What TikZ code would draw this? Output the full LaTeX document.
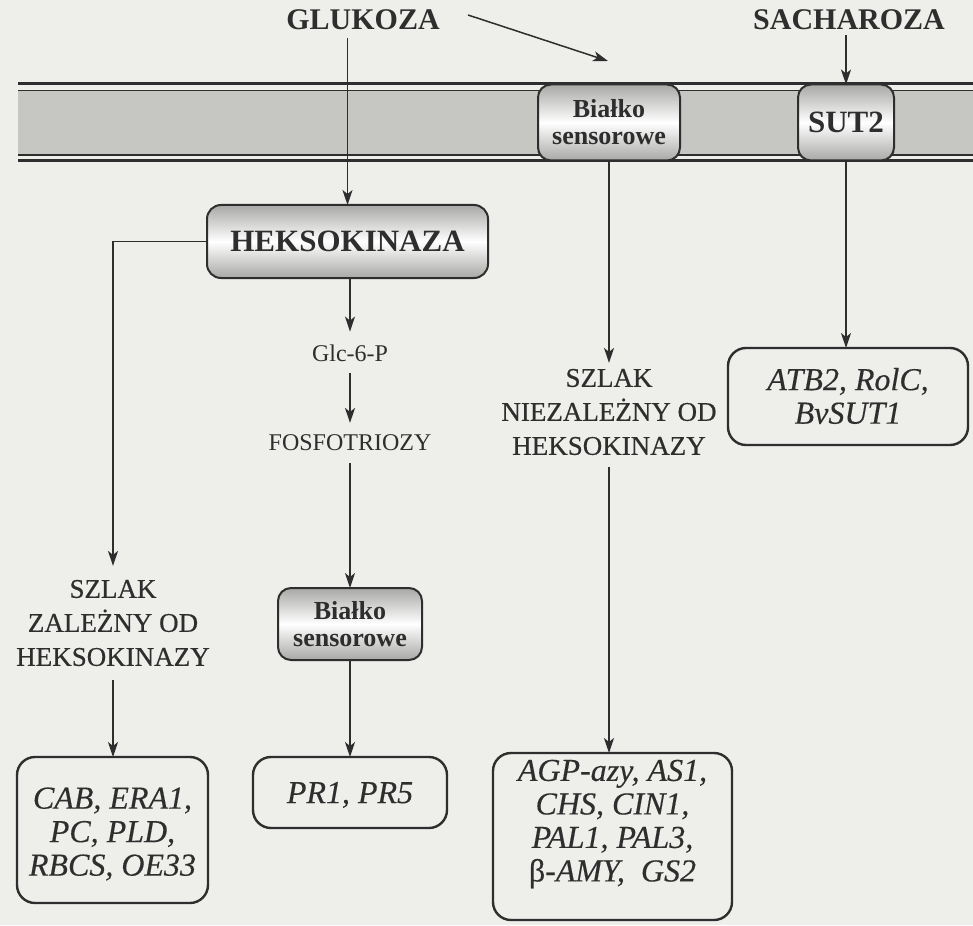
\documentclass[tikz,border=0pt]{standalone}
\usepackage{fontspec}
\setmainfont{Liberation Serif}
\usetikzlibrary{arrows.meta,calc}
\definecolor{paper}{HTML}{EEEEEB}
\definecolor{ink}{HTML}{2E2E2E}
\definecolor{membr}{HTML}{C6C6C3}
\definecolor{shade}{HTML}{A8A8A6}

\begin{document}
\begin{tikzpicture}[x=1pt,y=-1pt,
  every node/.style={text=ink, inner sep=0pt, outer sep=0pt},
  conn/.style={draw=ink, line width=1.5pt, -{Stealth[length=15pt,width=10pt,inset=4pt]}},
  title/.style={font=\fontsize{30}{36}\selectfont\bfseries},
  midtext/.style={font=\fontsize{24}{28}\selectfont},
  pathtext/.style={font=\fontsize{27}{34}\selectfont\addfontfeature{FakeBold=0.5}, align=center},
  protein/.style={draw=ink, line width=2pt, rounded corners=13pt,
    top color=shade, bottom color=shade, middle color=white, align=center},
  senstext/.style={font=\fontsize{26}{27}\selectfont\bfseries},
  bigbold/.style={font=\fontsize{31}{36}\selectfont\bfseries},
  genebox/.style={draw=ink, line width=2.4pt, rounded corners=18pt},
  genetext/.style={font=\fontsize{32}{33.5}\selectfont\itshape\addfontfeature{FakeBold=0.3}, align=center},
]
% paper and fixed frame
\fill[paper] (0,0) rectangle (973,925);
\useasboundingbox (0,0) rectangle (973,925);

% membrane band with its double edges
\fill[membr] (18,90) rectangle (973,155);
\draw[ink, line width=3pt] (18,84) -- (973,84);
\draw[ink, line width=1.8pt] (18,90.5) -- (973,90.5);
\draw[ink, line width=1.8pt] (18,155) -- (973,155);
\draw[ink, line width=3pt] (18,161) -- (973,161);

% substrates
\node[title] (g) at (363,20) {GLUKOZA};
\node[title] (s) at (849,20) {SACHAROZA};

% membrane proteins
\node[protein, senstext, minimum width=142pt, minimum height=76pt] (bs1) at (609,122.5)
  {Białko\\sensorowe};
\node[protein, bigbold, minimum width=96pt, minimum height=76pt] (sut) at (846,122.5)
  {SUT2};

% hexokinase branch
\node[protein, bigbold, minimum width=281pt, minimum height=73pt, rounded corners=14pt] (hk) at (347.5,241.5)
  {HEKSOKINAZA};
\node[midtext] (glc) at (350,353) {Glc-6-P};
\node[midtext] (fos) at (350,443) {FOSFOTRIOZY};
\node[protein, senstext, minimum width=144pt, minimum height=72pt] (bs2) at (350,624)
  {Białko\\sensorowe};

% pathway labels
\node[pathtext] (zal) at (113,623) {SZLAK\\ZALEŻNY OD\\HEKSOKINAZY};
\node[pathtext] (niez) at (609,412) {SZLAK\\NIEZALEŻNY OD\\HEKSOKINAZY};

% target genes
\node[genebox, minimum width=240pt, minimum height=97pt] (atb) at (848,396.5) {};
\node[genetext] (atbt) at (848,396) {ATB2, RolC,\\BvSUT1};
\node[genebox, minimum width=191pt, minimum height=146pt] (cab) at (112.5,830) {};
\node[genetext] (cabt) at (112.5,834) {CAB, ERA1,\\PC, PLD,\\RBCS, OE33};
\node[genebox, minimum width=194pt, minimum height=71pt] (pr) at (350,792.5) {};
\node[genetext] (prt) at (350,795) {PR1, PR5};
\node[genebox, minimum width=239pt, minimum height=167pt] (agp) at (612.5,836.5) {};
\node[genetext] (agpt) at (612.5,824) {AGP-azy, AS1,\\CHS, CIN1,\\PAL1, PAL3,\\{\upshape β}-AMY,\ \ GS2};

% free ends
\coordinate (gstart) at (468,15);
\coordinate (bsin) at (608,61);

% connectors
\draw[conn] ($(g.south -| hk.north)+(0,8)$) -- (hk.north);
\draw[conn] (gstart) -- (bsin);
\draw[conn] ($(s.south -| sut.north)+(0,5)$) -- (sut.north);
\draw[conn] (sut.south) -- (sut.south |- atb.north);
\draw[conn] (bs1.south) -- ($(bs1.south |- niez.north)+(0,-6)$);
\draw[conn] (hk.west) -| ($(zal.north)+(0,-14)$);
\draw[conn] ($(zal.south)+(0,14)$) -- (zal.south |- cab.north);
\draw[conn] (hk.south -| glc.north) -- ($(glc.north)+(0,-13)$);
\draw[conn] ($(glc.south)+(0,12)$) -- ($(fos.north)+(0,-12)$);
\draw[conn] ($(fos.south)+(0,12)$) -- (bs2.north);
\draw[conn] (bs2.south) -- (pr.north);
\draw[conn] ($(niez.south)+(0,12)$) -- (niez.south |- agp.north);
\end{tikzpicture}
\end{document}
